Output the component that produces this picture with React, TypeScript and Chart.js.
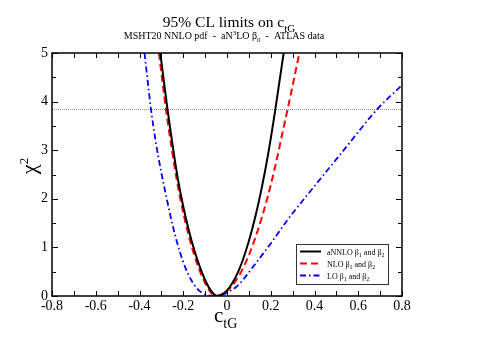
import React, { useEffect, useRef } from "react";
import { Chart, registerables } from "chart.js";

Chart.register(...registerables);

// ---- data ----
const xTickValues = [-0.8, -0.6, -0.4, -0.2, 0, 0.2, 0.4, 0.6, 0.8];
const xTickLabels = ["-0.8", "-0.6", "-0.4", "-0.2", "0", "0.2", "0.4", "0.6", "0.8"];
const yTickValues = [0, 1, 2, 3, 4, 5];
const yTickLabels = ["0", "1", "2", "3", "4", "5"];
const cl95Level = 3.84;

const annloX = [-0.305, -0.272, -0.25, -0.225, -0.2, -0.175, -0.15, -0.125, -0.1, -0.075, -0.046, -0.02, 0.01, 0.04, 0.07, 0.1, 0.13, 0.16, 0.19, 0.221, 0.259];
const annloY = [5.0, 3.84, 3.14, 2.42, 1.84, 1.36, 0.95, 0.61, 0.33, 0.12, 0.0, 0.04, 0.17, 0.39, 0.71, 1.13, 1.64, 2.25, 2.97, 3.84, 5.0];

const nloX = [-0.311, -0.279, -0.255, -0.23, -0.205, -0.18, -0.155, -0.13, -0.105, -0.08, -0.054, -0.02, 0.02, 0.06, 0.1, 0.14, 0.18, 0.22, 0.259, 0.277, 0.331];
const nloY = [5.0, 3.84, 3.1, 2.4, 1.82, 1.33, 0.92, 0.58, 0.31, 0.11, 0.0, 0.04, 0.19, 0.46, 0.84, 1.34, 1.94, 2.66, 3.47, 3.84, 5.0];

const loX = [-0.377, -0.36, -0.348, -0.325, -0.302, -0.28, -0.26, -0.24, -0.215, -0.19, -0.165, -0.14, -0.115, -0.09, -0.058, -0.03, 0.0, 0.046, 0.08, 0.119, 0.2, 0.274, 0.38, 0.53, 0.686, 0.8];
const loY = [5.0, 4.32, 3.86, 3.15, 2.58, 2.1, 1.68, 1.3, 0.9, 0.58, 0.34, 0.17, 0.07, 0.02, 0.0, 0.02, 0.07, 0.2, 0.37, 0.6, 1.08, 1.55, 2.15, 2.98, 3.84, 4.34];

const seriesNames = ["aNNLO", "NLO", "LO"];
const seriesColors = ["#000000", "#ff0000", "#0000ff"];

type Part = { t: string; size: number; dy?: number };

const SERIF = "'Liberation Serif', 'DejaVu Serif', serif";

function richWidth(ctx: CanvasRenderingContext2D, parts: Part[]) {
  let w = 0;
  for (const p of parts) {
    ctx.font = `${p.size}px ${SERIF}`;
    w += ctx.measureText(p.t).width;
  }
  return w;
}

function drawRich(ctx: CanvasRenderingContext2D, parts: Part[], x: number, y: number, align: "left" | "center") {
  const w = richWidth(ctx, parts);
  let cx = align === "center" ? x - w / 2 : x;
  ctx.textAlign = "left";
  ctx.textBaseline = "alphabetic";
  for (const p of parts) {
    ctx.font = `${p.size}px ${SERIF}`;
    ctx.fillText(p.t, cx, y + (p.dy || 0));
    cx += ctx.measureText(p.t).width;
  }
}

const pts = (xs: number[], ys: number[]) => xs.map((x, i) => ({ x, y: ys[i] }));

const decorPlugin = {
  id: "decor",
  beforeDatasetsDraw(chart: any) {
    const ctx: CanvasRenderingContext2D = chart.ctx;
    const { left, right } = chart.chartArea;
    const y = chart.scales.y.getPixelForValue(cl95Level);
    ctx.save();
    ctx.strokeStyle = "#8a8a8a";
    ctx.lineWidth = 1;
    ctx.setLineDash([1, 1]);
    ctx.beginPath();
    ctx.moveTo(left, Math.round(y) + 0.5);
    ctx.lineTo(right, Math.round(y) + 0.5);
    ctx.stroke();
    ctx.restore();
  },
  afterDatasetsDraw(chart: any) {
    const ctx: CanvasRenderingContext2D = chart.ctx;
    const { left, right, top, bottom } = chart.chartArea;
    const xs = chart.scales.x;
    const ys = chart.scales.y;
    ctx.save();
    ctx.strokeStyle = "#000";
    ctx.lineWidth = 1.5;
    ctx.setLineDash([]);
    ctx.strokeRect(left, top, right - left, bottom - top);
    ctx.lineWidth = 1;
    ctx.beginPath();
    for (let i = 0; i <= 16; i++) {
      const v = -0.8 + i * 0.1;
      const px = Math.round(xs.getPixelForValue(v)) + 0.5;
      ctx.moveTo(px, bottom);
      ctx.lineTo(px, bottom - 5);
      ctx.moveTo(px, top);
      ctx.lineTo(px, top + 5);
    }
    for (let i = 0; i <= 10; i++) {
      const v = i * 0.5;
      const len = i % 2 === 0 ? 6 : 4;
      const py = Math.round(ys.getPixelForValue(v)) + 0.5;
      ctx.moveTo(left, py);
      ctx.lineTo(left + len, py);
      ctx.moveTo(right, py);
      ctx.lineTo(right - len, py);
    }
    ctx.stroke();

    // legend
    const bx = 296, by = 244, bw = 92, bh = 40;
    ctx.fillStyle = "#fff";
    ctx.fillRect(bx, by, bw, bh);
    ctx.strokeStyle = "#333";
    ctx.lineWidth = 1;
    ctx.strokeRect(bx + 0.5, by + 0.5, bw, bh);
    const dashes = [[], [7, 4], [6, 3, 1.5, 3]];
    const widths = [2, 2, 1.8];
    for (let i = 0; i < 3; i++) {
      const ry = 251.5 + i * 12;
      ctx.strokeStyle = seriesColors[i];
      ctx.lineWidth = widths[i];
      ctx.setLineDash(dashes[i]);
      ctx.beginPath();
      ctx.moveTo(300, ry);
      ctx.lineTo(321, ry);
      ctx.stroke();
      ctx.setLineDash([]);
      ctx.fillStyle = "#000";
      drawRich(ctx, [
        { t: `${seriesNames[i]} β`, size: 8 },
        { t: "1", size: 6, dy: 2 },
        { t: " and β", size: 8 },
        { t: "2", size: 6, dy: 2 },
      ], 327, ry + 3, "left");
    }
    ctx.restore();
  },
  afterDraw(chart: any) {
    const ctx: CanvasRenderingContext2D = chart.ctx;
    const { left, right } = chart.chartArea;
    const cx = (left + right) / 2;
    ctx.save();
    ctx.fillStyle = "#000";
    drawRich(ctx, [
      { t: "95% CL limits on c", size: 15.5 },
      { t: "tG", size: 11, dy: 5 },
    ], cx + 2, 27, "center");
    drawRich(ctx, [
      { t: "MSHT20 NNLO pdf  -  aN", size: 10 },
      { t: "3", size: 7, dy: -4 },
      { t: "LO β", size: 10 },
      { t: "0", size: 7, dy: 3 },
      { t: "  -  ATLAS data", size: 10 },
    ], cx - 3, 38.5, "center");
    // x title
    drawRich(ctx, [
      { t: "c", size: 21 },
      { t: "tG", size: 14, dy: 6 },
    ], 214, 322, "left");
    // y title rotated
    ctx.translate(36, 166);
    ctx.rotate(-Math.PI / 2);
    drawRich(ctx, [
      { t: "χ", size: 22 },
      { t: "2", size: 13, dy: -8 },
    ], 0, 0, "center");
    ctx.restore();
  },
};

export default function App() {
  const ref = useRef<HTMLCanvasElement | null>(null);
  useEffect(() => {
    if (!ref.current) return;
    const chart = new Chart(ref.current, {
      type: "line",
      data: {
        datasets: [
          {
            label: "aNNLO",
            data: pts(annloX, annloY),
            borderColor: seriesColors[0],
            borderWidth: 2,
            pointRadius: 0,
            cubicInterpolationMode: "monotone",
            fill: false,
          },
          {
            label: "NLO",
            data: pts(nloX, nloY),
            borderColor: seriesColors[1],
            borderWidth: 2,
            borderDash: [7, 4],
            pointRadius: 0,
            cubicInterpolationMode: "monotone",
            fill: false,
          },
          {
            label: "LO",
            data: pts(loX, loY),
            borderColor: seriesColors[2],
            borderWidth: 1.8,
            borderDash: [6, 3, 1.5, 3],
            pointRadius: 0,
            cubicInterpolationMode: "monotone",
            fill: false,
          },
        ],
      },
      options: {
        animation: false,
        responsive: false,
        devicePixelRatio: 1,
        layout: { padding: { top: 53, right: 78, left: 0, bottom: 0 } },
        plugins: { legend: { display: false }, tooltip: { enabled: false }, title: { display: false } },
        scales: {
          x: {
            type: "linear",
            min: -0.8,
            max: 0.8,
            afterFit: (s: any) => { s.height = 43; },
            afterBuildTicks: (s: any) => { s.ticks = xTickValues.map((v) => ({ value: v })); },
            ticks: {
              callback: (_v: any, i: number) => xTickLabels[i],
              font: { family: SERIF, size: 14 },
              color: "#000",
              padding: 2,
              maxRotation: 0,
              autoSkip: false,
            },
            grid: { display: false, drawTicks: false },
            border: { display: false },
          },
          y: {
            type: "linear",
            min: 0,
            max: 5,
            afterFit: (s: any) => { s.width = 52; },
            afterBuildTicks: (s: any) => { s.ticks = yTickValues.map((v) => ({ value: v })); },
            ticks: {
              callback: (_v: any, i: number) => yTickLabels[i],
              font: { family: SERIF, size: 14 },
              color: "#000",
              padding: 4,
              autoSkip: false,
            },
            grid: { display: false, drawTicks: false },
            border: { display: false },
          },
        },
      },
      plugins: [decorPlugin],
    } as any);
    return () => chart.destroy();
  }, []);
  return (
    <div style={{ position: "fixed", left: 0, top: 0, width: 480, height: 339, background: "#fff" }}>
      <canvas ref={ref} width={480} height={339} style={{ width: 480, height: 339, display: "block" }} />
    </div>
  );
}
